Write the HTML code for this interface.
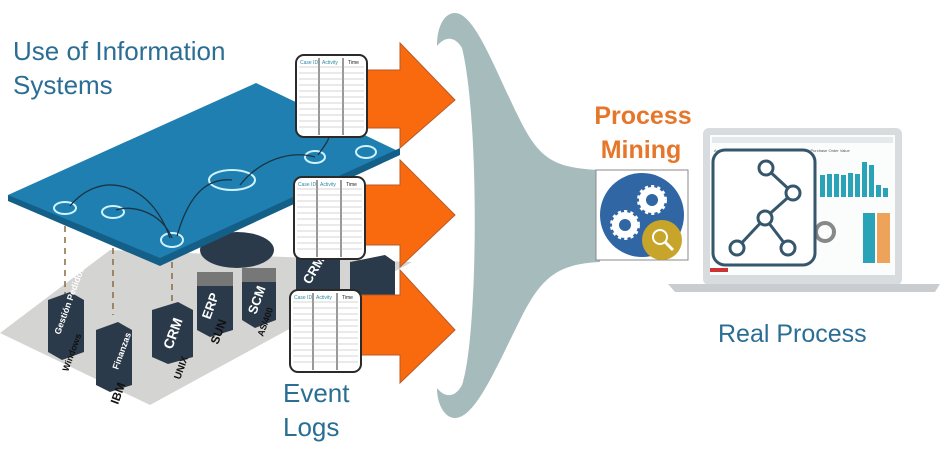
<!DOCTYPE html>
<html><head><meta charset="utf-8"><style>
html,body{margin:0;padding:0;background:#fff;}
svg{display:block;}
text{font-family:"Liberation Sans",sans-serif;}
</style></head><body>
<svg width="949" height="451" viewBox="0 0 949 451" xmlns="http://www.w3.org/2000/svg">
<rect width="949" height="451" fill="#fff"/>
<!-- funnel -->
<path d="M455,13 C475,13 495,70 520,120 C540,160 555,168 600,170 L600,262 C555,264 540,280 520,320 C495,370 475,418 455,418 C445,418 437,405 437,388 C445,398 455,398 462,385 C478,340 480,120 462,48 C455,36 445,36 437,46 C437,25 445,13 455,13 Z" fill="#a6bcbc"/>
<!-- floor -->
<polygon points="0,333 110,250 412,262 150,405" fill="#d4d4d2"/>
<g stroke="#8a6a40" stroke-width="1.5" stroke-dasharray="6,5">
<line x1="65" y1="215" x2="65" y2="300"/><line x1="113" y1="215" x2="113" y2="315"/><line x1="172" y1="240" x2="172" y2="305"/>
</g>
<g fill="#2b3a4a">
<polygon points="48,300 70,292 84,300 84,352 62,360 48,352"/>
<polygon points="96,330 118,322 132,330 132,385 110,392 96,385"/>
<polygon points="152,310 178,302 193,310 193,357 168,364 152,357"/>
<polygon points="197,280 220,272 233,280 233,330 210,337 197,330"/>
<polygon points="242,275 265,268 276,276 276,320 255,328 242,320"/>
<polygon points="296,255 340,255 340,295 296,295"/>
<polygon points="350,262 385,255 395,262 395,295 360,300 350,295"/>
<ellipse cx="237" cy="250" rx="37" ry="18"/>
</g>
<rect x="197" y="272" width="36" height="14" fill="#777"/>
<rect x="242" y="268" width="34" height="14" fill="#777"/>
<g fill="#fff" font-size="9" font-weight="bold">
<text x="60" y="335" transform="rotate(-70 60 335)">Gestión Pedidos</text>
<text x="118" y="370" transform="rotate(-70 118 370)">Finanzas</text>
<text x="172" y="350" font-size="14" transform="rotate(-70 172 350)">CRM</text>
<text x="210" y="320" font-size="13" transform="rotate(-70 210 320)">ERP</text>
<text x="256" y="315" font-size="13" transform="rotate(-70 256 315)">SCM</text>
<text x="310" y="285" font-size="13" transform="rotate(-60 310 285)">CRM</text>
</g>
<g fill="#111" font-size="12" font-weight="bold">
<text x="68" y="372" transform="rotate(-70 68 372)" font-size="9">Windows</text>
<text x="118" y="405" transform="rotate(-70 118 405)">IBM</text>
<text x="180" y="380" transform="rotate(-70 180 380)" font-size="10">UNIX</text>
<text x="218" y="345" transform="rotate(-70 218 345)">SUN</text>
<text x="263" y="337" transform="rotate(-70 263 337)" font-size="9">AS/400</text>
</g>
<!-- blue plane -->
<polygon points="8,195 256,83 400,152 160,262 8,200" fill="#1f7fb0"/>
<polygon points="8,195 160,258 400,148 400,155 160,266 8,201" fill="#145f88"/>
<g fill="none" stroke="#cdf3ff" stroke-width="2">
<ellipse cx="65" cy="208" rx="11" ry="6"/><ellipse cx="113" cy="212" rx="11" ry="6"/>
<ellipse cx="172" cy="240" rx="11" ry="7"/><ellipse cx="232" cy="180" rx="23" ry="10"/>
<ellipse cx="315" cy="157" rx="10" ry="6"/><ellipse cx="366" cy="152" rx="10" ry="6"/>
</g>
<g fill="none" stroke="#1a3545" stroke-width="1.3">
<path d="M70,206 C100,170 150,180 170,238"/><path d="M116,210 C130,205 160,210 172,238"/>
<path d="M177,236 C190,190 210,178 232,180"/><path d="M240,185 C260,160 290,150 315,157"/>
<path d="M318,155 C325,145 330,140 330,130"/>
</g>
<!-- arrows -->
<g fill="#f96a0e" stroke="#b85a2a" stroke-width="1">
<polygon points="355,70 400,70 400,43 455,100 400,148 400,128 355,128"/>
<polygon points="355,185 400,185 400,160 455,215 400,267 400,245 355,245"/>
<polygon points="355,295 400,295 400,270 455,330 400,383 400,355 355,355"/>
</g>
<!-- tables -->
<g id="t1">
<rect x="296" y="55" width="71" height="82" rx="8" fill="#fff" stroke="#2a2a2a" stroke-width="2"/>
<line x1="319" y1="58" x2="319" y2="135" stroke="#333"/><line x1="343" y1="58" x2="343" y2="135" stroke="#333"/>
<text x="300" y="64" font-size="5" fill="#2b8aa0">Case ID</text><text x="322" y="64" font-size="5" fill="#2b8aa0">Activity</text><text x="348" y="64" font-size="5" fill="#222">Time</text>
<g stroke="#aaa" stroke-width="0.6">
<line x1="299" y1="67" x2="364" y2="67"/><line x1="299" y1="73" x2="364" y2="73"/><line x1="299" y1="79" x2="364" y2="79"/><line x1="299" y1="85" x2="364" y2="85"/><line x1="299" y1="91" x2="364" y2="91"/><line x1="299" y1="97" x2="364" y2="97"/><line x1="299" y1="103" x2="364" y2="103"/><line x1="299" y1="109" x2="364" y2="109"/><line x1="299" y1="115" x2="364" y2="115"/><line x1="299" y1="121" x2="364" y2="121"/><line x1="299" y1="127" x2="364" y2="127"/>
</g>
</g>
<use href="#t1" transform="translate(-2,122)"/>
<use href="#t1" transform="translate(-6,235)"/>
<!-- gear box -->
<rect x="596" y="170" width="92" height="90" fill="#fff" stroke="#888" stroke-width="1"/>
<circle cx="642" cy="215" r="42" fill="#2f66a3"/>
<g fill="#fff" stroke="#fff" stroke-width="4" stroke-dasharray="3,3">
<circle cx="652" cy="200" r="13"/><circle cx="625" cy="225" r="13"/>
</g>
<g fill="#2f66a3"><circle cx="652" cy="200" r="6"/><circle cx="625" cy="225" r="6"/></g>
<circle cx="662" cy="240" r="20" fill="#c7a52a"/>
<circle cx="660" cy="237" r="7" fill="none" stroke="#fff" stroke-width="2"/>
<line x1="665" y1="242" x2="673" y2="250" stroke="#fff" stroke-width="3"/>
<!-- laptop -->
<rect x="703" y="128" width="199" height="157" rx="6" fill="#d8dcdf"/>
<rect x="710" y="135" width="185" height="140" fill="#fbfcfc"/>
<rect x="712" y="137" width="181" height="6" fill="#e6e9ec"/>
<text x="714" y="152" font-size="4" fill="#555">Activity Process Dimensions · Purchase Order Items · Purchase Order Value</text>
<g fill="#2aa3b8">
<rect x="820" y="175" width="5" height="22"/><rect x="827" y="174" width="5" height="23"/><rect x="834" y="174" width="5" height="23"/><rect x="841" y="175" width="5" height="22"/><rect x="848" y="173" width="5" height="24"/><rect x="855" y="174" width="5" height="23"/><rect x="862" y="162" width="5" height="35"/><rect x="869" y="165" width="5" height="32"/><rect x="876" y="185" width="5" height="12"/><rect x="883" y="188" width="5" height="9"/>
<rect x="863" y="213" width="12" height="50"/>
</g>
<rect x="877" y="213" width="13" height="50" fill="#eea35a"/>
<circle cx="825" cy="232" r="9" fill="none" stroke="#888" stroke-width="4"/>
<rect x="710" y="268" width="18" height="4" fill="#c33"/>
<rect x="713" y="150" width="102" height="115" rx="12" fill="#fff" stroke="#35566b" stroke-width="3"/>
<g stroke="#35566b" stroke-width="3" fill="none">
<line x1="766" y1="168" x2="793" y2="193"/><line x1="793" y1="193" x2="765" y2="218"/><line x1="765" y1="218" x2="737" y2="248"/><line x1="765" y1="218" x2="788" y2="248"/>
<circle cx="766" cy="168" r="7" fill="#fff"/><circle cx="793" cy="193" r="7" fill="#fff"/><circle cx="765" cy="218" r="7" fill="#fff"/><circle cx="737" cy="248" r="7" fill="#fff"/><circle cx="788" cy="248" r="7" fill="#fff"/>
</g>
<path d="M668,284 L940,284 L935,292 L675,292 Z" fill="#c9cdd0"/>
<g fill="#2b6e94" font-size="26">
<text x="13" y="60">Use of Information</text>
<text x="13" y="94">Systems</text>
<text x="283" y="402">Event</text>
<text x="283" y="436">Logs</text>
<text x="718" y="342" font-size="25">Real Process</text>
</g>
<g fill="#e5762a" font-size="25" font-weight="bold" text-anchor="middle">
<text x="643" y="124">Process</text>
<text x="641" y="158">Mining</text>
</g>
</svg>
</body></html>
